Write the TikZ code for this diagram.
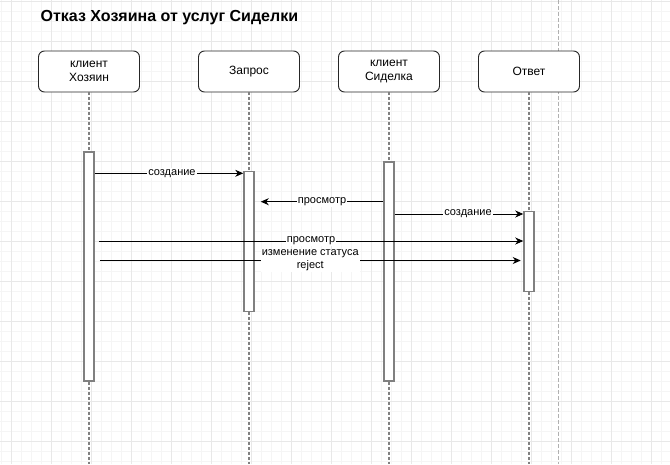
\documentclass[tikz,border=0pt]{standalone}
\usepackage{fontspec}
\setmainfont{Liberation Sans}
\usetikzlibrary{arrows.meta}
\definecolor{gridmajor}{HTML}{E8E8E8}
\definecolor{gridminor}{HTML}{F5F5F5}
\definecolor{lifegray}{HTML}{808080}
\definecolor{pagegray}{HTML}{B0B0B0}
\tikzset{
  actor/.style={draw=black!85, line width=0.9pt, rounded corners=6pt, fill=white,
    minimum width=101pt, minimum height=41pt, inner sep=0pt, align=center,
    font=\fontsize{12}{14}\selectfont},
  actbar/.style={draw=lifegray, line width=1.5pt, fill=white, minimum width=10pt, inner sep=0pt},
  lifeline/.style={draw=lifegray, line width=1.5pt, dash pattern=on 3pt off 2pt},
  msg/.style={draw=black, line width=0.9pt, -{Stealth[length=8pt,width=7pt,inset=2.5pt]}},
  msglabel/.style={fill=white, inner sep=1pt, align=center, font=\fontsize{11}{13}\selectfont},
}
\begin{document}
\begin{tikzpicture}[x=1pt,y=-1pt]
\useasboundingbox (0,0) rectangle (670,464);
\fill[white] (0,0) rectangle (670,464);
% grid
\foreach \gx in {1.7,11.7,...,670} \draw[gridminor, line width=0.5pt] (\gx,0) -- (\gx,464);
\foreach \gy in {1.7,11.7,...,464} \draw[gridminor, line width=0.5pt] (0,\gy) -- (670,\gy);
\foreach \gx in {11.7,51.7,...,670} \draw[gridmajor, line width=0.7pt] (\gx,0) -- (\gx,464);
\foreach \gy in {1.7,41.7,...,464} \draw[gridmajor, line width=0.7pt] (0,\gy) -- (670,\gy);
% page boundary
\coordinate (pgtop) at (558.3,0);
\coordinate (pgbot) at (558.3,464);
\draw[pagegray, line width=0.8pt, dash pattern=on 4pt off 2pt] (pgtop) -- (pgbot);
% title
\node[anchor=west, inner sep=0pt, font=\fontsize{16}{18}\bfseries\selectfont] (title) at (40.5,17.5) {Отказ Хозяина от услуг Сиделки};
% actors
\node[actor] (a1) at (89,71.5) {клиент\\Хозяин};
\node[actor] (a2) at (249,71.5) {Запрос};
\node[actor] (a3) at (389,71.5) {клиент\\Сиделка};
\node[actor] (a4) at (529,71.5) {Ответ};
\coordinate (bottom) at (0,464);
% activation bars
\node[actbar, minimum height=229pt] (b1) at (89,266.5) {};
\node[actbar, minimum height=140pt] (b2) at (249,241.5) {};
\node[actbar, minimum height=219pt] (b3) at (389,271.5) {};
\node[actbar, minimum height=80pt] (b4) at (529,251.5) {};
% lifelines
\draw[lifeline] (a1.south) -- (b1.north);
\draw[lifeline] (b1.south) -- (b1.south |- bottom);
\draw[lifeline] (a2.south) -- (b2.north);
\draw[lifeline] (b2.south) -- (b2.south |- bottom);
\draw[lifeline] (a3.south) -- (b3.north);
\draw[lifeline] (b3.south) -- (b3.south |- bottom);
\draw[lifeline] (a4.south) -- (b4.north);
\draw[lifeline] (b4.south) -- (b4.south |- bottom);
% message levels
\coordinate (m1) at (0,173.3);
\coordinate (m2) at (0,201.7);
\coordinate (m3) at (0,214);
\coordinate (m4) at (0,241);
\coordinate (m5) at (0,260.5);
% messages
\draw[msg] (b1.east |- m1) -- (b2.west |- m1) node[msglabel, pos=0.52] (l1) {создание};
\draw[msg] (b3.west |- m2) -- ([xshift=6pt]b2.east |- m2) node[msglabel, pos=0.5] (l2) {просмотр};
\draw[msg] (b3.east |- m3) -- (b4.west |- m3) node[msglabel, pos=0.57] (l3) {создание};
\draw[msg] ([xshift=4pt]b1.east |- m4) -- (b4.west |- m4) node[msglabel, pos=0.5] (l4) {просмотр};
\draw[msg] ([xshift=5pt]b1.east |- m5) -- ([xshift=-2.5pt]b4.west |- m5) node[msglabel, pos=0.5] (l5) {изменение статуса\\reject};
\end{tikzpicture}
\end{document}
